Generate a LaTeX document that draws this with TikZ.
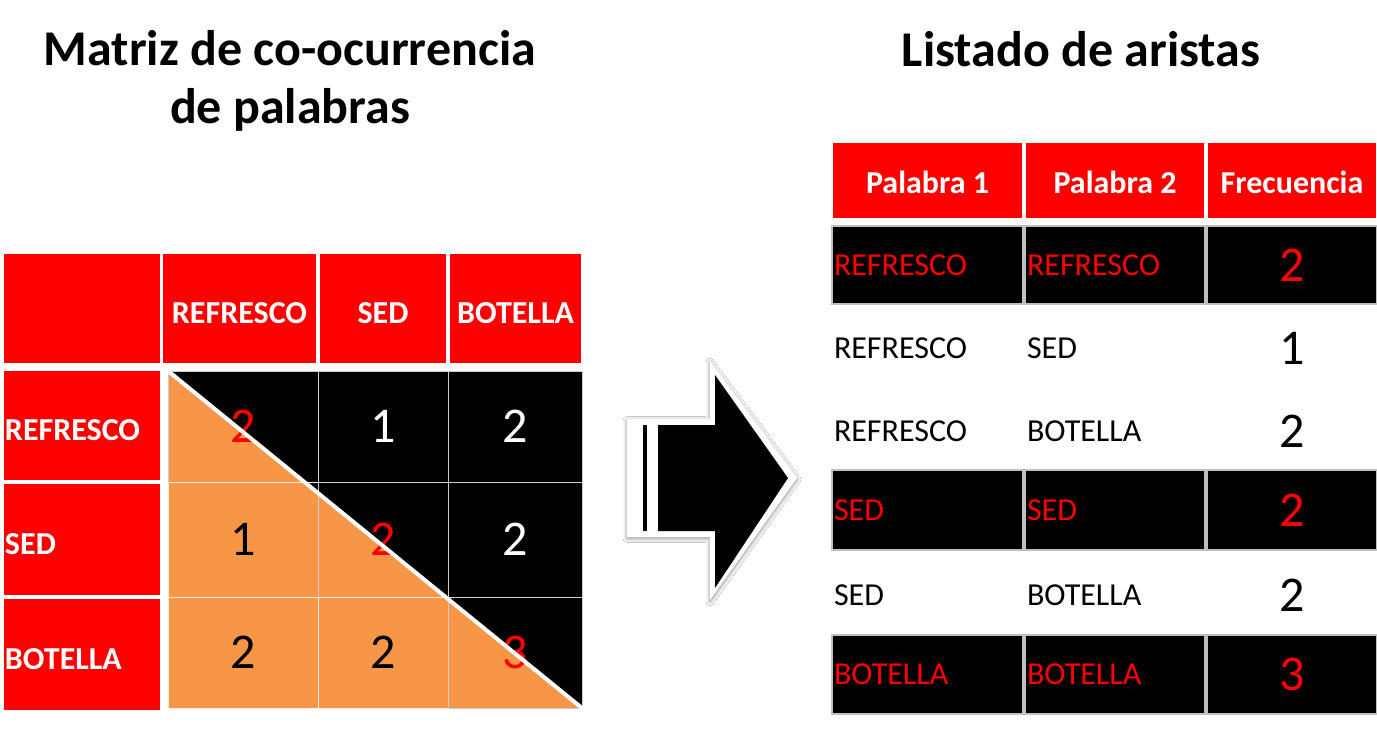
\documentclass[tikz,border=0pt]{standalone}
\usepackage{fontspec}
\setmainfont{Carlito}
\usetikzlibrary{shadows.blur}
\definecolor{rojo}{HTML}{FF0000}
\definecolor{naranja}{HTML}{F79646}

\begin{document}
\begin{tikzpicture}[x=1pt,y=-1pt,
    cab/.style={shape=rectangle,fill=rojo,draw=white,line width=1.5pt,inner sep=0pt,text=white,text height=30pt,font=\fontsize{32}{38}\selectfont\bfseries},
    cabT/.style={cab,text height=27pt},
    etiq/.style={cab,inner xsep=2pt,align=left},
    celda/.style={shape=rectangle,draw=gray!40,line width=1pt,inner sep=0pt,font=\fontsize{50}{60}\selectfont},
    fila/.style={shape=rectangle,fill=black,draw=gray!50,line width=1.5pt,inner sep=0pt,inner xsep=2pt,align=left,text=rojo,font=\fontsize{32}{38}\selectfont},
    vacia/.style={shape=rectangle,inner sep=0pt,inner xsep=2pt,align=left,font=\fontsize{32}{38}\selectfont},
    filaF/.style={fila,align=center,font=\fontsize{50}{60}\selectfont},
    vaciaF/.style={vacia,align=center,font=\fontsize{50}{60}\selectfont}]
                \fill[white](0, 0) rectangle (1377, 733);
                \useasboundingbox (0, 0) rectangle (1377, 733);
                % titulos
                \node[align=center,font=\fontsize{50}{58}\selectfont\bfseries](tit1)at(290, 81){Matriz de co-ocurrencia\\de palabras};
                \node[anchor=base,font=\fontsize{50}{58}\selectfont\bfseries](tit2)at(1081, 67){Listado de aristas};
                % matriz
                \node[cab,minimum width=158,minimum height=111](h0)at(82, 308.5){};
                \node[cab,minimum width=155,minimum height=111](h1)at(239.5, 308.5){REFRESCO};
                \node[cab,minimum width=128,minimum height=111](h2)at(383, 308.5){SED};
                \node[cab,minimum width=133,minimum height=111](h3)at(515.5, 308.5){BOTELLA};
                \node[etiq,text width=154,minimum height=111](r1)at(82, 425.5){REFRESCO};
                \node[etiq,text width=154,minimum height=113](r2)at(82, 539.5){SED};
                \node[etiq,text width=154,minimum height=113](r3)at(82, 654.5){BOTELLA};
                \fill[naranja](168, 371) -- (168, 708) -- (582, 708) -- cycle;
                \fill[black](168, 371) -- (582, 371) -- (582, 708) -- cycle;
                \node[celda,minimum width=150,minimum height=111,text=rojo](c11)at(243, 426.5){2};
                \node[celda,minimum width=130,minimum height=111,text=white](c12)at(383, 426.5){1};
                \node[celda,minimum width=134,minimum height=111,text=white](c13)at(515, 426.5){2};
                \node[celda,minimum width=150,minimum height=115,draw=white!85!naranja](c21)at(243, 539.5){1};
                \node[celda,minimum width=130,minimum height=115,text=rojo](c22)at(383, 539.5){2};
                \node[celda,minimum width=134,minimum height=115,text=white](c23)at(515, 539.5){2};
                \node[celda,minimum width=150,minimum height=111,draw=white!85!naranja](c31)at(243, 652.5){2};
                \node[celda,minimum width=130,minimum height=111,draw=white!85!naranja](c32)at(383, 652.5){2};
                \node[celda,minimum width=134,minimum height=111,text=rojo](c33)at(515, 652.5){3};
                \draw[white,line width=4pt](c11.north west) -- (c33.south east);
                % flecha
                \fill[white,blur shadow={shadow xshift=0pt,shadow yshift=-1.5pt,shadow blur radius=4pt,shadow blur steps=8,shadow opacity=45}](627, 419) -- (710, 419) -- (710, 361) -- (797, 478) -- (710, 600) -- (710, 537) -- (627, 537) -- cycle;
                \fill[black](658, 425) -- (715, 425) -- (715, 375) -- (788, 478) -- (715, 588) -- (715, 531) -- (658, 531) -- cycle;
                \fill[black](643, 425) rectangle (647, 531);
                % listado
                \node[cabT,minimum width=191,minimum height=77](p1)at(927.5, 180.5){Palabra 1};
                \node[cabT,minimum width=180,minimum height=77](p2)at(1115, 180.5){Palabra 2};
                \node[cabT,minimum width=170,minimum height=77](fr)at(1292, 180.5){Frecuencia};
                \node[fila,text width=187,minimum height=78](a1)at(927.5, 265){REFRESCO};
                \node[fila,text width=176,minimum height=78](b1)at(1115, 265){REFRESCO};
                \node[filaF,text width=166,minimum height=78](f1)at(1292, 265){2};
                \node[vacia,text width=187,minimum height=78](a2)at(927.5, 348){REFRESCO};
                \node[vacia,text width=176,minimum height=78](b2)at(1115, 348){SED};
                \node[vaciaF,text width=166,minimum height=78](f2)at(1292, 348){1};
                \node[vacia,text width=187,minimum height=78](a3)at(927.5, 431){REFRESCO};
                \node[vacia,text width=176,minimum height=78](b3)at(1115, 431){BOTELLA};
                \node[vaciaF,text width=166,minimum height=78](f3)at(1292, 431){2};
                \node[fila,text width=187,minimum height=80](a4)at(927.5, 510){SED};
                \node[fila,text width=176,minimum height=80](b4)at(1115, 510){SED};
                \node[filaF,text width=166,minimum height=80](f4)at(1292, 510){2};
                \node[vacia,text width=187,minimum height=78](a5)at(927.5, 595){SED};
                \node[vacia,text width=176,minimum height=78](b5)at(1115, 595){BOTELLA};
                \node[vaciaF,text width=166,minimum height=78](f5)at(1292, 595){2};
                \node[fila,text width=187,minimum height=79](a6)at(927.5, 674.5){BOTELLA};
                \node[fila,text width=176,minimum height=79](b6)at(1115, 674.5){BOTELLA};
                \node[filaF,text width=166,minimum height=79](f6)at(1292, 674.5){3};
\end{tikzpicture}
\end{document}
